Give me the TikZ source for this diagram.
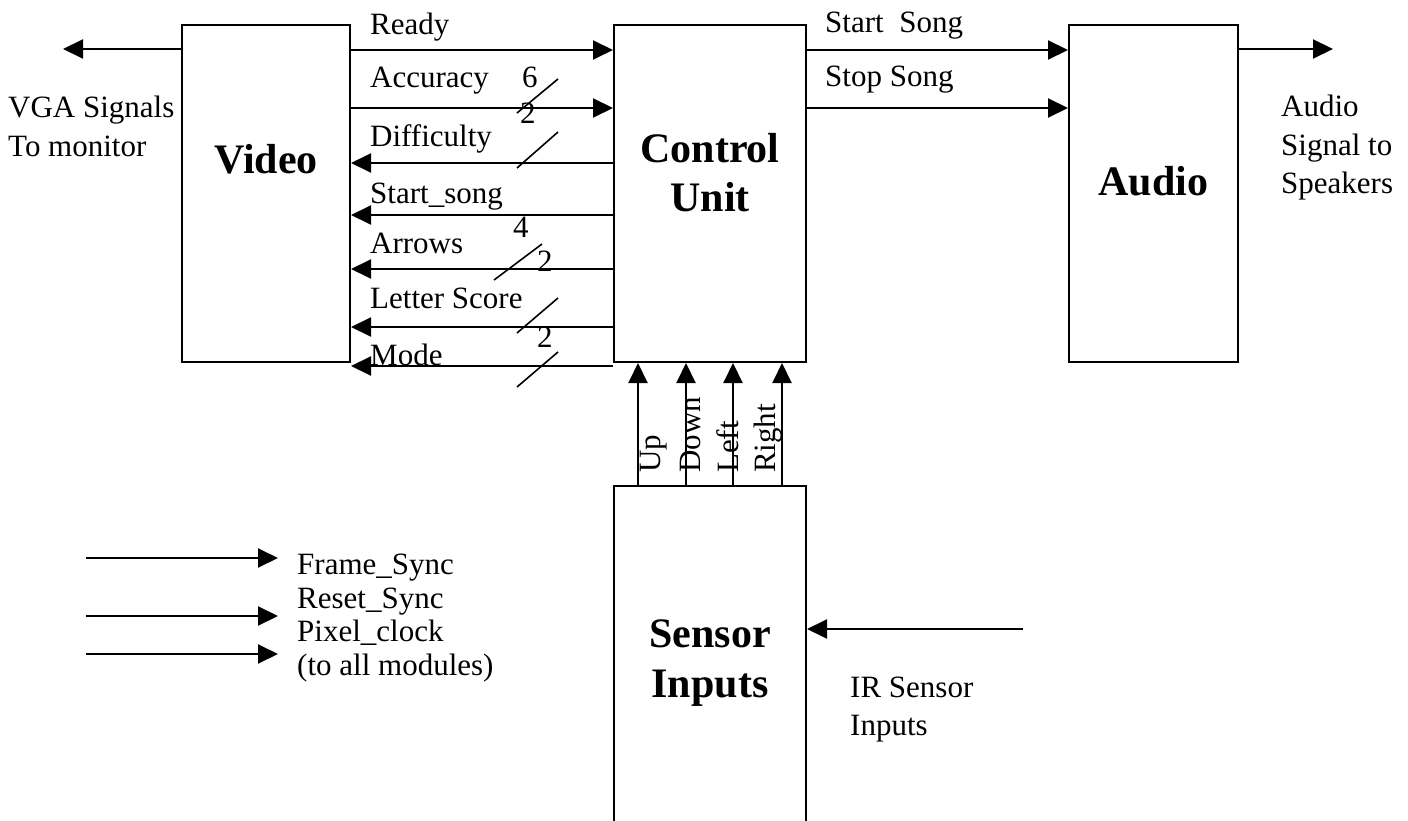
\documentclass[tikz,border=0pt]{standalone}
\usepackage{fontspec}
\setmainfont{Liberation Serif}
\usetikzlibrary{arrows.meta}
\begin{document}
\begin{tikzpicture}[x=1pt,y=-1pt,
  box/.style={draw, line width=2pt, inner sep=0pt},
  arr/.style={line width=2pt, -{Triangle[length=20pt,width=19pt]}},
  slash/.style={line width=1.6pt},
  lbl/.style={inner sep=0pt, anchor=base west, font=\fontsize{31}{31}\selectfont},
  big/.style={inner sep=0pt, anchor=base, font=\fontsize{42}{42}\selectfont\bfseries}]
\useasboundingbox (0,0) rectangle (1408,821);
\begin{scope}
\clip (0,0) rectangle (1408,821);
% blocks
\node[box, minimum width=168pt, minimum height=337pt] (video) at (266,193.5) {};
\node[box, minimum width=192pt, minimum height=337pt] (cu) at (710,193.5) {};
\node[box, minimum width=169pt, minimum height=337pt] (audio) at (1153.5,193.5) {};
\node[box, minimum width=192pt, minimum height=364pt] (sensor) at (710,668) {};
\end{scope}
% block titles
\node[big] (tvideo) at (266,174) {Video};
\node[big] (tcu1) at (710,163) {Control};
\node[big] (tcu2) at (710,212) {Unit};
\node[big] (taudio) at (1153.5,196) {Audio};
\node[big] (tsen1) at (710,647) {Sensor};
\node[big] (tsen2) at (710,697) {Inputs};
% row coordinates
\coordinate (yReady) at (0,50);
\coordinate (yAcc) at (0,108);
\coordinate (yDiff) at (0,163);
\coordinate (ySS) at (0,215);
\coordinate (yArr) at (0,269);
\coordinate (yLS) at (0,327);
\coordinate (yMode) at (0,366);
\coordinate (yOut) at (0,49);
% video <-> control unit
\draw[arr] (video.east |- yReady) -- (cu.west |- yReady);
\draw[arr] (video.east |- yAcc) -- (cu.west |- yAcc);
\draw[arr] (cu.west |- yDiff) -- (video.east |- yDiff);
\draw[arr] (cu.west |- ySS) -- (video.east |- ySS);
\draw[arr] (cu.west |- yArr) -- (video.east |- yArr);
\draw[arr] (cu.west |- yLS) -- (video.east |- yLS);
\draw[arr] (cu.west |- yMode) -- (video.east |- yMode);
\node[lbl] (lready) at (370,35) {Ready};
\node[lbl] (lacc) at (370,88) {Accuracy};
\node[lbl] (ldiff) at (370,147) {Difficulty};
\node[lbl] (lss) at (370,204) {Start\_song};
\node[lbl] (larr) at (370,253) {Arrows};
\node[lbl] (lls) at (370,308) {Letter Score};
\node[lbl] (lmode) at (370,365) {Mode};
% bus slashes and widths
\coordinate (s1a) at (517,113); \coordinate (s1b) at (558,79);
\coordinate (s2a) at (517,168); \coordinate (s2b) at (558,132);
\coordinate (s3a) at (494,280); \coordinate (s3b) at (542,244);
\coordinate (s4a) at (517,333); \coordinate (s4b) at (558,298);
\coordinate (s5a) at (517,387); \coordinate (s5b) at (558,352);
\draw[slash] (s1a) -- (s1b);
\draw[slash] (s2a) -- (s2b);
\draw[slash] (s3a) -- (s3b);
\draw[slash] (s4a) -- (s4b);
\draw[slash] (s5a) -- (s5b);
\node[lbl] (n6) at (522,88) {6};
\node[lbl] (n2a) at (520,124) {2};
\node[lbl] (n4) at (513,237) {4};
\node[lbl] (n2b) at (537,271) {2};
\node[lbl] (n2c) at (537,347) {2};
% control unit -> audio
\draw[arr] (cu.east |- yReady) -- (audio.west |- yReady);
\draw[arr] (cu.east |- yAcc) -- (audio.west |- yAcc);
\node[lbl] (lstart) at (825,33) {Start\enspace Song};
\node[lbl] (lstop) at (825,87) {Stop Song};
% outputs
\coordinate (vgaend) at (63,49);
\coordinate (audend) at (1333,49);
\draw[arr] (video.west |- yOut) -- (vgaend);
\draw[arr] (audio.east |- yOut) -- (audend);
\node[lbl] (vga1) at (8,118) {VGA Signals};
\node[lbl] (vga2) at (8,157) {To monitor};
\node[lbl] (ao1) at (1281,117) {Audio};
\node[lbl] (ao2) at (1281,156) {Signal to};
\node[lbl] (ao3) at (1281,194) {Speakers};
% sensor -> control unit
\coordinate (x1) at (638,0);
\coordinate (x2) at (686,0);
\coordinate (x3) at (733,0);
\coordinate (x4) at (782,0);
\draw[arr] (sensor.north -| x1) -- (cu.south -| x1);
\draw[arr] (sensor.north -| x2) -- (cu.south -| x2);
\draw[arr] (sensor.north -| x3) -- (cu.south -| x3);
\draw[arr] (sensor.north -| x4) -- (cu.south -| x4);
\node[lbl, rotate=90] (lup) at (660,473) {Up};
\node[lbl, rotate=90] (ldown) at (700,473) {Down};
\node[lbl, rotate=90] (lleft) at (738,473) {Left};
\node[lbl, rotate=90] (lright) at (775,473) {Right};
% IR input
\coordinate (irstart) at (1023,629);
\draw[arr] (irstart) -- (sensor.east |- irstart);
\node[lbl] (ir1) at (850,697) {IR Sensor};
\node[lbl] (ir2) at (850,735) {Inputs};
% legend
\coordinate (g1a) at (86,558); \coordinate (g1b) at (278,558);
\coordinate (g2a) at (86,616); \coordinate (g2b) at (278,616);
\coordinate (g3a) at (86,654); \coordinate (g3b) at (278,654);
\draw[arr] (g1a) -- (g1b);
\draw[arr] (g2a) -- (g2b);
\draw[arr] (g3a) -- (g3b);
\node[lbl] (lg1) at (297,574) {Frame\_Sync};
\node[lbl] (lg2) at (297,608) {Reset\_Sync};
\node[lbl] (lg3) at (297,641) {Pixel\_clock};
\node[lbl] (lg4) at (297,675) {(to all modules)};
\end{tikzpicture}
\end{document}
